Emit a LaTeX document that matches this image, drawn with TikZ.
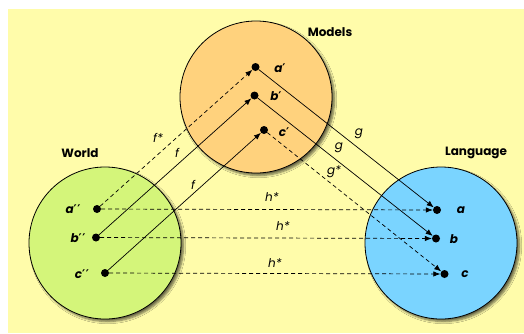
\documentclass[tikz,border=0pt]{standalone}
\usepackage{fontspec}
\setmainfont{Poppins}
\newfontfamily\primefont{DejaVu Sans}
\newcommand{\pr}{{\primefont\bfseries\upshape ′}}
\usetikzlibrary{arrows.meta,shadows.blur}
\definecolor{bgyel}{RGB}{255,252,170}
\definecolor{morange}{RGB}{255,210,125}
\definecolor{wgreen}{RGB}{212,245,122}
\definecolor{lblue}{RGB}{122,212,255}
\begin{document}
\begin{tikzpicture}[x=1pt,y=-1pt,
  realm/.style={circle, draw=black, line width=0.8pt, minimum size=152pt, inner sep=0pt,
    blur shadow={shadow xshift=2.5pt, shadow yshift=-2.5pt, shadow blur steps=6, shadow opacity=60}},
  dot/.style={circle, fill=black, inner sep=0pt, minimum size=8pt},
  title/.style={font=\fontsize{12}{14}\selectfont\bfseries},
  plab/.style={font=\fontsize{12}{14}\selectfont\bfseries\itshape},
  alab/.style={font=\fontsize{12}{14}\selectfont\itshape},
  arr/.style={-{Latex[length=7pt,width=5.5pt]}, line width=0.7pt},
  dsh/.style={arr, dash pattern=on 4pt off 3pt}]
\useasboundingbox (0,0) rectangle (524,333);
\fill[bgyel] (8,9) rectangle (524,333);
% circles
\node[realm, fill=morange] (models) at (256,97) {};
\node[realm, fill=wgreen] (world) at (105,243) {};
\node[realm, fill=lblue] (lang) at (441,243) {};
% titles
\node[title] (tm) at (330,32) {Models};
\node[title] (tw) at (80,153) {World};
\node[title] (tl) at (476,153) {Language};
% dots
\node[dot] (am) at (255.5,67) {};
\node[dot] (bm) at (254.5,95.5) {};
\node[dot] (cm) at (264,130) {};
\node[dot] (aw) at (97,209) {};
\node[dot] (bw) at (96,237.5) {};
\node[dot] (cw) at (105,273) {};
\node[dot] (al) at (437,210) {};
\node[dot] (bl) at (436,238.5) {};
\node[dot] (cl) at (444.5,274) {};
% point labels
\node[plab] (lam) at (280,68) {a\pr};
\node[plab] (lbm) at (276,96) {b\pr};
\node[plab] (lcm) at (284,132) {c\pr};
\node[plab] (law) at (73,209.5) {a\pr\kern0.5pt\pr};
\node[plab] (lbw) at (78,238.5) {b\pr\kern0.5pt\pr};
\node[plab] (lcw) at (82,274) {c\pr\kern0.5pt\pr};
\node[plab] (lal) at (461,210.5) {a};
\node[plab] (lbl) at (454,239.5) {b};
\node[plab] (lcl) at (465,274.5) {c};
% arrows
\draw[dsh] (aw) -- (am);
\draw[arr] (bw) -- (bm);
\draw[arr] (cw) -- (cm);
\draw[arr] (am) -- (al);
\draw[arr] (bm) -- (bl);
\draw[dsh] (cm) -- (cl);
\draw[dsh] (aw) -- (al);
\draw[dsh] (bw) -- (bl);
\draw[dsh] (cw) -- (cl);
% arrow labels
\node[alab] (lf1) at (158,138) {f*};
\node[alab] (lf2) at (177,153) {f};
\node[alab] (lf3) at (193,185) {f};
\node[alab] (lg1) at (359,134) {g};
\node[alab] (lg2) at (339,148) {g};
\node[alab] (lg3) at (334,172) {g*};
\node[alab] (lh1) at (272,197) {h*};
\node[alab] (lh2) at (283,226) {h*};
\node[alab] (lh3) at (275,263) {h*};
\end{tikzpicture}
\end{document}
